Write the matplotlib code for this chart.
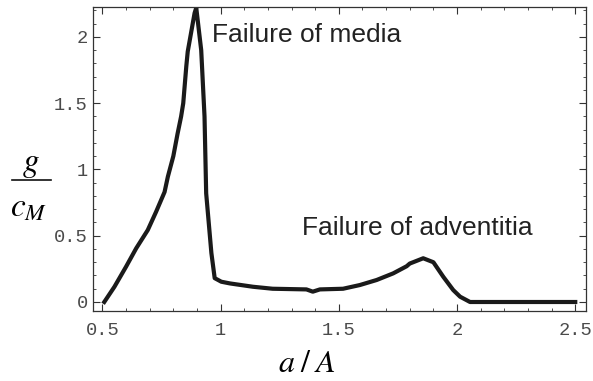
import numpy as np
import matplotlib
matplotlib.use("Agg")
import matplotlib.pyplot as plt
from matplotlib.lines import Line2D
from matplotlib.ticker import MultipleLocator

# dissipation rate g / c_M versus stretch a / A
ratio = [0.508, 0.551, 0.600, 0.643, 0.692, 0.727, 0.763, 0.777, 0.800, 0.818,
         0.833, 0.842, 0.855, 0.861, 0.890, 0.897, 0.918, 0.932, 0.939, 0.961,
         0.975, 1.003, 1.04, 1.137, 1.22, 1.363, 1.39, 1.42, 1.518, 1.589,
         1.66, 1.73, 1.787, 1.80, 1.857, 1.90, 1.942, 1.984, 2.013, 2.055, 2.5]
g_over_c = [0.00, 0.115, 0.266, 0.405, 0.543, 0.68, 0.83, 0.946, 1.10, 1.27,
            1.40, 1.50, 1.78, 1.89, 2.18, 2.22, 1.90, 1.40, 0.82, 0.37,
            0.18, 0.153, 0.14, 0.115, 0.10, 0.095, 0.078, 0.095, 0.10, 0.128,
            0.166, 0.216, 0.27, 0.29, 0.33, 0.30, 0.19, 0.09, 0.04, 0.0, 0.0]

xticks = [0.5, 1, 1.5, 2, 2.5]
yticks = [0, 0.5, 1, 1.5, 2]

plt.rcParams["mathtext.fontset"] = "stix"

fig = plt.figure(figsize=(5.93, 3.81), dpi=100)
ax = fig.add_axes([0.1575, 0.1837, 0.8305, 0.7979])

ax.plot(ratio, g_over_c, color="#1a1a1a", lw=3, solid_joinstyle="round")

ax.set_xlim(0.462, 2.545)
ax.set_ylim(-0.068, 2.226)
ax.set_xticks(xticks)
ax.set_yticks(yticks)
ax.set_xticklabels(["0.5", "1", "1.5", "2", "2.5"])
ax.set_yticklabels(["0", "0.5", "1", "1.5", "2"])
ax.xaxis.set_minor_locator(MultipleLocator(0.1))
ax.yaxis.set_minor_locator(MultipleLocator(0.1))
ax.tick_params(which="both", direction="in", top=True, right=True, color="#333333")
ax.tick_params(which="major", length=5, width=0.8)
ax.tick_params(which="minor", length=2.5, width=0.6)
ax.tick_params(axis="x", which="major", pad=8)
ax.tick_params(axis="y", which="major", pad=4)
for lab in ax.get_xticklabels() + ax.get_yticklabels():
    lab.set_fontfamily("Liberation Mono")
    lab.set_fontsize(13.5)
    lab.set_color("#4a4a4a")
for sp in ax.spines.values():
    sp.set_linewidth(0.9)
    sp.set_color("#333333")

ax.text(0.962, 2.015, "Failure of media", fontsize=19, family="Liberation Sans",
        va="center", ha="left", color="#222222")
ax.text(1.343, 0.56, "Failure of adventitia", fontsize=19, family="Liberation Sans",
        va="center", ha="left", color="#222222")

# x label
fig.text(0.518, 0.004, r"$a\;/\;A$", fontsize=23, ha="center", va="bottom")

# y label built as a stacked fraction g over c_M
fig.text(31 / 593, 1 - 163 / 381, r"$g$", fontsize=24, ha="center", va="center")
fig.add_artist(Line2D([12 / 593, 51 / 593], [1 - 180 / 381, 1 - 180 / 381],
                      color="#111111", lw=1.2, transform=fig.transFigure))
fig.text(29 / 593, 1 - 207 / 381, r"$c_M$", fontsize=24, ha="center", va="center")

fig.savefig("out.png", dpi=100)
